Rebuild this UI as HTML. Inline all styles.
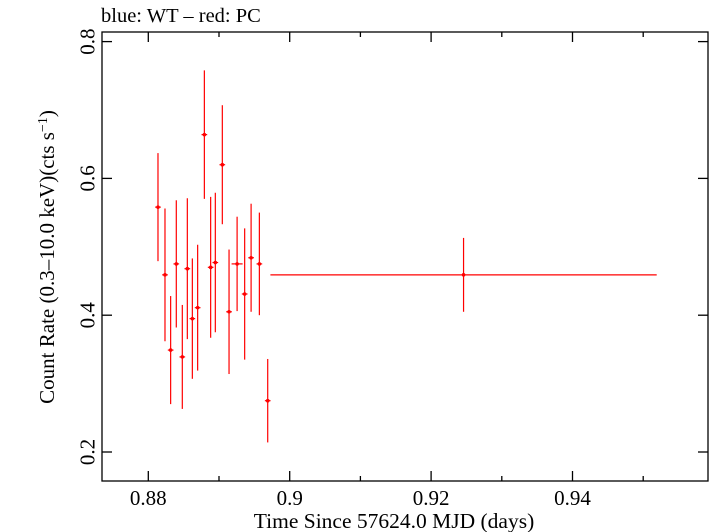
<!DOCTYPE html>
<html><head><meta charset="utf-8"><style>
body{margin:0;background:#fff}
svg{display:block;font-family:"Liberation Serif",serif}
</style></head><body>
<svg width="709" height="532" viewBox="0 0 709 532">
<text x="101" y="22" font-size="20.5">blue: WT – red: PC</text>
<rect x="102" y="32" width="606" height="449" fill="none" stroke="#000" stroke-width="1.3"/>
<g id="axes"></g>
<g id="marks"></g>
<text x="54" y="257" font-size="21" text-anchor="middle" transform="rotate(-90 54 257)">Count Rate (0.3–10.0 keV)(cts s<tspan font-size="14" dy="-7">−1</tspan><tspan dy="7">)</tspan></text>
<text x="394" y="528" font-size="21.5" text-anchor="middle">Time Since 57624.0 MJD (days)</text>
</svg>
<script>
const xTicks=[0.88,0.9,0.92,0.94];
const xMinor=[0.89,0.91,0.93,0.95];
const yTicks=[0.2,0.4,0.6,0.8];
const times=[0.88137,0.88236,0.88316,0.88396,0.88481,0.88552,0.88623,0.88698,0.88793,0.88882,0.88948,0.89047,0.89142,0.89256,0.89363,0.89454,0.89571,0.89689,0.92459];
const timeErr=[0.0004,0.0004,0.0004,0.0004,0.0004,0.0004,0.0004,0.0004,0.0004,0.0004,0.0004,0.0004,0.0004,0.00078,0.0004,0.0004,0.0004,0.0004,0.02732];
const rates=[0.558,0.459,0.349,0.475,0.339,0.468,0.395,0.411,0.664,0.470,0.477,0.620,0.405,0.475,0.431,0.484,0.475,0.275,0.459];
const rateErr=[0.079,0.097,0.079,0.093,0.076,0.103,0.088,0.092,0.094,0.103,0.102,0.087,0.091,0.069,0.096,0.079,0.075,0.061,0.054];
const NS='http://www.w3.org/2000/svg';
const X=v=>148.3+(v-0.88)*7070;
const Y=v=>452-(v-0.2)*684;
function mk(t,a,p){const e=document.createElementNS(NS,t);for(const k in a)e.setAttribute(k,a[k]);p.appendChild(e);return e;}
const ax=document.getElementById('axes'),mg=document.getElementById('marks');
xTicks.forEach(v=>{const x=X(v);
const t1=mk('line',{x1:x,x2:x,y1:481,y2:471,stroke:'#000','stroke-width':1.3},ax);


const t2=mk('line',{x1:x,x2:x,y1:32,y2:42,stroke:'#000','stroke-width':1.3},ax);


const l=mk('text',{x:x,y:505,'font-size':21,'text-anchor':'middle'},ax);l.textContent=String(v);

});
xMinor.forEach(v=>{const x=X(v);
const t1=mk('line',{x1:x,x2:x,y1:481,y2:476,stroke:'#000','stroke-width':1.3},ax);


const t2=mk('line',{x1:x,x2:x,y1:32,y2:37,stroke:'#000','stroke-width':1.3},ax);

});
yTicks.forEach(v=>{const y=Y(v);
const t1=mk('line',{x1:102,x2:112,y1:y,y2:y,stroke:'#000','stroke-width':1.3},ax);


const t2=mk('line',{x1:708,x2:698,y1:y,y2:y,stroke:'#000','stroke-width':1.3},ax);


const l=mk('text',{x:87,y:y,'font-size':21,'text-anchor':'middle',transform:`rotate(-90 87 ${y})`,dy:'0.35em'},ax);l.textContent=v.toFixed(1);

});
times.forEach((t,i)=>{const g=mk('g',{},mg);


const x=X(t),y=Y(rates[i]);
mk('line',{x1:X(t-timeErr[i]),x2:X(t+timeErr[i]),y1:y,y2:y,stroke:'#f00','stroke-width':1.2},g);
mk('line',{x1:x,x2:x,y1:Y(rates[i]-rateErr[i]),y2:Y(rates[i]+rateErr[i]),stroke:'#f00','stroke-width':1.2},g);
mk('circle',{cx:x,cy:y,r:1.8,fill:'#f00'},g);});
</script>
</body></html>
